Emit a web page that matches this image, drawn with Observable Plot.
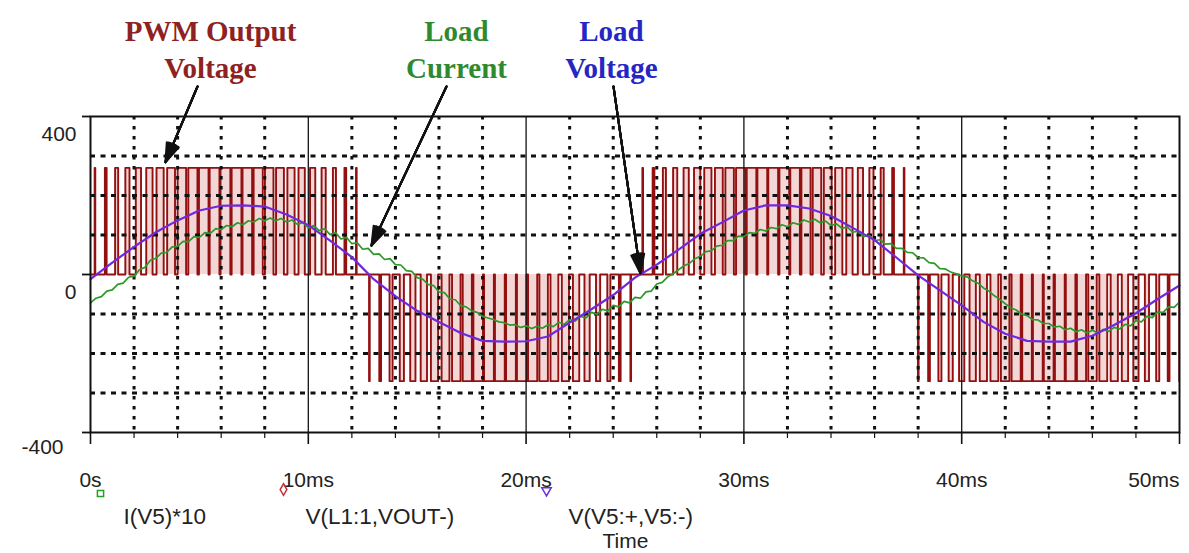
<!DOCTYPE html>
<html>
<head>
<meta charset="utf-8">
<script src="https://cdn.jsdelivr.net/npm/d3@7"></script>
<script src="https://cdn.jsdelivr.net/npm/@observablehq/plot@0.6"></script>
<style>
html,body{margin:0;padding:0;background:#fff;}
#chart svg{display:block;}
</style>
</head>
<body>
<div id="chart"></div>
<script>
// ================= DATA =================
// Time axis (ms) of the load-voltage samples
const voltageTimeMs = [0,1,2,3,4,5,6,7,8,9,10,11,12,13,14,15,16,17,18,19,20,21,22,23,24,25,26,27,28,29,30,31,32,33,34,35,36,37,38,39,40,41,42,43,44,45,46,47,48,49,50];
// V(V5:+,V5:-)  load voltage (V)
const loadVoltage = [-12,30,70,107,137,162,174,175,172,152,125,86,44,-12,-55,-92,-120,-148,-168,-170,-169,-157,-122,-88,-52,-8,25,63,103,132,162,175,175,167,148,118,87,43,-2,-40,-78,-120,-150,-168,-170,-170,-155,-128,-98,-62,-28];

// I(V5)*10  load current (scaled), sampled every 0.25 ms from 0 to 50 ms
const currentSampleStepMs = 0.25;
const loadCurrent = [
-72,-60,-56,-42,-39,-25,-22,-7,-4,12,18,36,41,54,56,70,71,84,83,96,
94,106,104,116,114,124,121,131,126,136,133,142,136,143,136,142,133,138,127,132,
118,124,111,116,101,106,90,94,78,80,64,66,51,52,38,40,25,24,10,8,
-8,-12,-25,-28,-44,-46,-62,-64,-79,-82,-92,-96,-106,-110,-114,-120,-122,-128,-127,-134,
-130,-137,-131,-136,-127,-132,-121,-126,-114,-118,-106,-110,-96,-101,-88,-92,-78,-82,-68,-72,
-58,-60,-44,-42,-24,-20,-6,2,12,22,28,40,46,58,60,72,74,86,86,97,
96,106,104,114,110,119,116,126,121,131,127,138,133,140,131,135,124,128,117,120,
107,110,96,99,86,88,77,78,66,66,56,55,43,42,30,28,15,14,6,2,
-4,-6,-16,-22,-34,-42,-54,-63,-74,-84,-90,-100,-104,-114,-115,-124,-124,-133,-131,-140,
-136,-145,-140,-148,-141,-148,-139,-144,-134,-138,-126,-130,-117,-120,-106,-109,-95,-96,-82,-83,
-70];

// V(L1:1,VOUT-)  PWM output voltage: pulse level, half-cycle start times (ms), polarity,
// and the pulses [rise, fall] (ms after the half-cycle start)
const pwmLevel = 270;
const pwmHalfCycleStartMs = [-0.05, 12.55, 25.1, 37.75];
const pwmHalfCycleSign = [1, -1, 1, -1];
const pwmPulsesMs = [
  [0.24,0.27],[0.71,0.79],[1.18,1.32],[1.65,1.84],[2.13,2.37],
  [2.61,2.90],[3.08,3.41],[3.57,3.93],[4.05,4.44],[4.54,4.96],
  [5.03,5.47],[5.52,5.97],[6.02,6.47],[6.53,6.98],[7.03,7.47],
  [7.54,7.96],[8.06,8.45],[8.57,8.93],[9.09,9.42],[9.60,9.89],
  [10.13,10.37],[10.66,10.85],[11.18,11.32],[11.71,11.79],[12.24,12.27]
];

// Grid / ticks / labels
const xDomainMs = [0, 50];
const yDomain = [-400, 400];
const xMajorMs = [0, 10, 20, 30, 40, 50];
const xMajorLabels = ["0s", "10ms", "20ms", "30ms", "40ms", "50ms"];
const xMinorMs = [2,4,6,8,12,14,16,18,22,24,26,28,32,34,36,38,42,44,46,48];
const yGridValues = [-300, -200, -100, 100, 200, 300];
const yTickValues = [400, 0, -400];
const yTickLabels = ["400", "0", "-400"];

// Annotations (text, colour, the data point the arrow points at)
const annotationLabels = ["PWM Output\nVoltage", "Load\nCurrent", "Load\nVoltage"];
const annotationColors = ["#8e2222", "#2f8a2f", "#2626c4"];
const annotationTipMs = [3.44, 12.9, 25.25];
const annotationTipValue = [284, 73, 3];

// Legend
const legendLabels = ["I(V5)*10", "V(L1:1,VOUT-)", "V(V5:+,V5:-)"];
const legendColors = ["#22a022", "#c0303a", "#6a2be0"];
const legendSymbols = ["square", "diamond", "triangle"];
const xAxisTitle = "Time";

// ================= LAYOUT =================
const W = 1189, H = 553;
const ML = 90, MR = 10, MT = 116, MB = 121;
const pxPerMs = (W - ML - MR) / (xDomainMs[1] - xDomainMs[0]);
const pxPerUnit = (H - MT - MB) / (yDomain[1] - yDomain[0]);
const xAt = px => xDomainMs[0] + (px - ML) / pxPerMs;   // pixel -> ms
const yAt = py => yDomain[1] - (py - MT) / pxPerUnit;   // pixel -> value

// ================= TABLES =================
const voltageData = voltageTimeMs.map((t, i) => ({t, v: loadVoltage[i]}));
const currentData = loadCurrent.map((v, i) => ({t: i * currentSampleStepMs, v}));

const pwmData = [{t: -1, v: 0}];
pwmHalfCycleStartMs.forEach((s, i) => {
  const A = pwmLevel * pwmHalfCycleSign[i];
  for (const [a, b] of pwmPulsesMs) {
    pwmData.push({t: s + a, v: 0}, {t: s + a, v: A}, {t: s + b, v: A}, {t: s + b, v: 0});
  }
});
pwmData.push({t: 52, v: 0});

const annotTextPx = [[210, 47], [456, 47], [611, 47]];
const annotTailPx = [[197, 86], [446, 86], [613, 86]];
const annotations = annotationLabels.map((label, i) => ({
  label, color: annotationColors[i],
  tx: xAt(annotTextPx[i][0]), ty: yAt(annotTextPx[i][1]),
  x1: xAt(annotTailPx[i][0]), y1: yAt(annotTailPx[i][1]),
  x2: annotationTipMs[i], y2: annotationTipValue[i]
}));

const legendMarkerPx = [[100, 493], [283, 489], [546, 490]];
const legendTextPx = [[123, 516], [305, 516], [568, 516]];
const legend = legendLabels.map((label, i) => ({
  label, color: legendColors[i], symbol: legendSymbols[i],
  rotate: legendSymbols[i] === "triangle" ? 180 : 0,
  mx: xAt(legendMarkerPx[i][0]), my: yAt(legendMarkerPx[i][1]),
  lx: xAt(legendTextPx[i][0]), ly: yAt(legendTextPx[i][1])
}));

const xLabels = xMajorMs.map((t, i) => ({t, label: xMajorLabels[i], last: i === xMajorMs.length - 1}));
const yLabels = yTickValues.map((v, i) => ({v, label: yTickLabels[i], neg: v < 0}));

const sans = "'Liberation Sans', Arial, Helvetica, sans-serif";
const serif = "'Liberation Serif', 'Times New Roman', serif";

const headAngles = [6, 14, 22, 30, 38];

const chart = Plot.plot({
  width: W, height: H,
  marginLeft: ML, marginRight: MR, marginTop: MT, marginBottom: MB,
  x: {domain: xDomainMs, axis: null},
  y: {domain: yDomain, axis: null},
  style: {background: "#fff", fontFamily: sans, overflow: "visible"},
  marks: [
    // PWM output voltage (pulse interiors tinted, edges dark red)
    Plot.areaY(pwmData, {x: "t", y: "v", fill: "#e9b4b4", fillOpacity: 0.55, clip: true}),
    Plot.line(pwmData, {x: "t", y: "v", stroke: "#931010", strokeWidth: 1.9, clip: true}),
    // dotted grid
    Plot.ruleX(xMinorMs, {stroke: "#111", strokeWidth: 3, strokeDasharray: "3.5,6.5"}),
    Plot.ruleY(yGridValues, {stroke: "#111", strokeWidth: 3, strokeDasharray: "5,5.5"}),
    Plot.ruleX(xMajorMs.slice(1, -1), {stroke: "#111", strokeWidth: 1.3}),
    // load current & load voltage
    Plot.line(currentData, {x: "t", y: "v", stroke: "#2f982c", strokeWidth: 1.7}),
    Plot.line(voltageData, {x: "t", y: "v", stroke: "#7028dc", strokeWidth: 2.2}),
    // frame, ticks
    Plot.frame({stroke: "#111", strokeWidth: 2}),
    Plot.ruleX(xMinorMs, {y1: yDomain[0], y2: yAt(H - MB + 6), stroke: "#111", strokeWidth: 1.2}),
    Plot.ruleX(xMajorMs, {y1: yDomain[0], y2: yAt(H - MB + 12), stroke: "#111", strokeWidth: 1.6}),
    Plot.ruleY(yTickValues, {x1: xAt(ML - 8), x2: xDomainMs[0], stroke: "#111", strokeWidth: 1.8}),
    // tick labels
    Plot.text(yLabels.filter(d => !d.neg), {x: xDomainMs[0], y: "v", text: "label", textAnchor: "end", dx: -14, dy: 18, fontSize: 21, fill: "#222", fontFamily: sans}),
    Plot.text(yLabels.filter(d => d.neg), {x: xDomainMs[0], y: "v", text: "label", textAnchor: "end", dx: -27, dy: 15, fontSize: 21, fill: "#222", fontFamily: sans}),
    Plot.text(xLabels.filter(d => !d.last), {x: "t", y: yDomain[0], text: "label", textAnchor: "middle", dy: 48, fontSize: 21, fill: "#222", fontFamily: sans}),
    Plot.text(xLabels.filter(d => d.last), {x: "t", y: yDomain[0], text: "label", textAnchor: "end", dy: 48, fontSize: 21, fill: "#222", fontFamily: sans}),
    // annotations
    Plot.link(annotations, {x1: "x1", y1: "y1", x2: "x2", y2: "y2", stroke: "#111", strokeWidth: 2}),
    ...headAngles.map(a => Plot.arrow(annotations, {x1: "x1", y1: "y1", x2: "x2", y2: "y2", stroke: "#111", strokeWidth: 2, headAngle: a, headLength: 15})),
    Plot.text(annotations, {x: "tx", y: "ty", text: "label", fill: "color", fontSize: 29, fontWeight: "bold", fontFamily: serif, lineHeight: 1.3, textAnchor: "middle"}),
    // legend
    Plot.dot(legend, {x: "mx", y: "my", symbol: "symbol", rotate: "rotate", stroke: "color", r: 3.5, strokeWidth: 1.5, fill: "none"}),
    Plot.text(legend, {x: "lx", y: "ly", text: "label", textAnchor: "start", fontSize: 22.5, fill: "#222", fontFamily: sans}),
    Plot.text([xAxisTitle], {x: xAt(625), y: yAt(541), text: d => d, textAnchor: "middle", fontSize: 21, fill: "#222", fontFamily: sans})
  ]
});
document.getElementById("chart").appendChild(chart);
</script>
</body>
</html>
